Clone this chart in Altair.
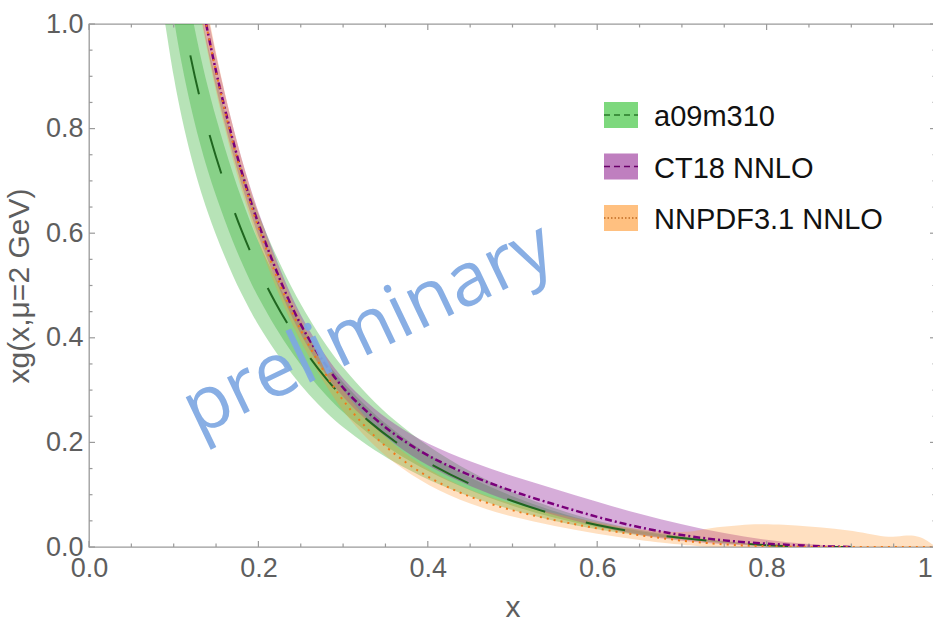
import altair as alt
import pandas as pd

# Plot-area size in pixels
W, H = 847, 523

# ---------------- data ----------------
# a09m310 lattice result: central curve with inner and outer error bands
a09_x = [0.09, 0.10, 0.11, 0.12, 0.13, 0.14, 0.15, 0.16, 0.17, 0.18, 0.19, 0.20,
         0.22, 0.24, 0.26, 0.28, 0.30, 0.33, 0.36, 0.40, 0.45, 0.50, 0.55, 0.60,
         0.65, 0.70, 0.75, 0.80, 0.85, 0.90]
a09_mid = [1.25, 1.12, 1.02, 0.935, 0.863, 0.80, 0.745, 0.695, 0.648, 0.605, 0.566, 0.53,
           0.466, 0.411, 0.363, 0.321, 0.285, 0.24, 0.202, 0.160, 0.119, 0.087, 0.061, 0.041,
           0.027, 0.017, 0.009, 0.003, 0.0, 0.0]
a09_inner_lo = [1.125, 1.008, 0.918, 0.842, 0.777, 0.72, 0.671, 0.626, 0.583, 0.545, 0.509, 0.477,
                0.419, 0.37, 0.327, 0.289, 0.257, 0.216, 0.182, 0.144, 0.107, 0.078, 0.055, 0.037,
                0.024, 0.015, 0.008, 0.0027, 0.0, 0.0]
a09_inner_hi = [1.375, 1.232, 1.122, 1.029, 0.949, 0.88, 0.82, 0.765, 0.713, 0.666, 0.623, 0.583,
                0.513, 0.452, 0.399, 0.353, 0.314, 0.264, 0.222, 0.176, 0.131, 0.096, 0.067, 0.045,
                0.030, 0.019, 0.010, 0.0033, 0.0, 0.0]
a09_outer_lo = [1.0, 0.896, 0.816, 0.748, 0.69, 0.64, 0.596, 0.556, 0.518, 0.484, 0.453, 0.424,
                0.373, 0.329, 0.29, 0.257, 0.228, 0.192, 0.162, 0.128, 0.095, 0.07, 0.049, 0.033,
                0.022, 0.014, 0.007, 0.0024, 0.0, 0.0]
a09_outer_hi = [1.5, 1.344, 1.224, 1.122, 1.036, 0.96, 0.894, 0.834, 0.778, 0.726, 0.679, 0.636,
                0.559, 0.493, 0.436, 0.385, 0.342, 0.288, 0.242, 0.192, 0.143, 0.104, 0.073, 0.049,
                0.032, 0.020, 0.011, 0.0036, 0.0, 0.0]

# CT18 NNLO global fit
ct18_x = [0.12, 0.13, 0.14, 0.15, 0.16, 0.17, 0.18, 0.19, 0.20, 0.22, 0.24, 0.26,
          0.28, 0.30, 0.33, 0.36, 0.40, 0.45, 0.50, 0.55, 0.60, 0.65, 0.70, 0.75,
          0.80, 0.85, 0.90]
ct18_mid = [1.17, 1.07, 0.985, 0.908, 0.84, 0.776, 0.718, 0.665, 0.617, 0.532, 0.455, 0.395,
            0.346, 0.302, 0.255, 0.215, 0.173, 0.136, 0.106, 0.081, 0.057, 0.037, 0.022, 0.012,
            0.006, 0.002, 0.0]
ct18_lo = [1.13, 1.035, 0.952, 0.877, 0.811, 0.749, 0.693, 0.641, 0.594, 0.511, 0.436, 0.377,
           0.328, 0.285, 0.238, 0.197, 0.154, 0.115, 0.085, 0.060, 0.039, 0.022, 0.011, 0.005,
           0.0015, 0.0, 0.0]
ct18_hi = [1.21, 1.105, 1.018, 0.939, 0.869, 0.803, 0.743, 0.689, 0.64, 0.553, 0.474, 0.413,
           0.364, 0.32, 0.273, 0.235, 0.196, 0.163, 0.135, 0.111, 0.086, 0.063, 0.043, 0.026,
           0.013, 0.005, 0.0]

# NNPDF3.1 NNLO global fit
nnpdf_x = [0.12, 0.13, 0.14, 0.15, 0.16, 0.17, 0.18, 0.19, 0.20, 0.22, 0.24, 0.26,
           0.28, 0.30, 0.33, 0.36, 0.40, 0.45, 0.50, 0.55, 0.60, 0.65, 0.70, 0.72,
           0.74, 0.77, 0.79, 0.82, 0.85, 0.88, 0.91, 0.93, 0.95, 0.965, 0.98, 0.99, 1.0]
nnpdf_mid = [1.17, 1.07, 0.985, 0.907, 0.836, 0.771, 0.712, 0.659, 0.61, 0.522, 0.446, 0.383,
             0.328, 0.278, 0.222, 0.177, 0.132, 0.094, 0.069, 0.051, 0.035, 0.022, 0.012, 0.009,
             0.006, 0.003, 0.002, 0.001, 0.0, 0.0, 0.0, 0.0, 0.0, 0.0, 0.0, 0.0, 0.0]
nnpdf_lo = [1.125, 1.028, 0.945, 0.87, 0.802, 0.739, 0.682, 0.631, 0.583, 0.498, 0.424, 0.362,
            0.308, 0.258, 0.203, 0.16, 0.117, 0.081, 0.057, 0.040, 0.025, 0.013, 0.004, 0.0015,
            0.0, 0.0, 0.0, 0.0, 0.0, 0.0, 0.0, 0.0, 0.0, 0.0, 0.0, 0.0, 0.0]
nnpdf_hi = [1.215, 1.112, 1.025, 0.944, 0.87, 0.803, 0.742, 0.687, 0.637, 0.546, 0.468, 0.404,
            0.348, 0.298, 0.241, 0.194, 0.147, 0.107, 0.082, 0.064, 0.046, 0.033, 0.027, 0.032,
            0.038, 0.042, 0.044, 0.043, 0.039, 0.035, 0.029, 0.022, 0.018, 0.023, 0.021, 0.012, 0.0]

# Axis ticks
major_ticks = [0.0, 0.2, 0.4, 0.6, 0.8, 1.0]
minor_ticks = [0.05, 0.1, 0.15, 0.25, 0.3, 0.35, 0.45, 0.5, 0.55,
               0.65, 0.7, 0.75, 0.85, 0.9, 0.95]

legend_labels = ["a09m310", "CT18 NNLO", "NNPDF3.1 NNLO"]

# ---------------- styling ----------------
FRAME = "#9a9a9a"
LABEL = "#5e5e5e"
FONT = "Liberation Sans"

xs = alt.Scale(domain=[0, 1], nice=False, zero=False)
ys = alt.Scale(domain=[0, 1], nice=False, zero=False)

x_axis = alt.Axis(values=major_ticks, format=".1f", ticks=False, tickSize=0, domain=False,
                  grid=False, labelFontSize=27, labelColor=LABEL, labelFont=FONT,
                  labelPadding=8, labelOverlap=False, labelBound=False, labelFlush=False,
                  title="x", titleFontSize=30, titleFont=FONT, titleColor=LABEL,
                  titleFontWeight="normal", titleAlign="center", titleBaseline="alphabetic",
                  titleX=W / 2, titleY=69, titleAngle=0)
y_axis = alt.Axis(values=major_ticks, format=".1f", ticks=False, tickSize=0, domain=False,
                  grid=False, labelFontSize=27, labelColor=LABEL, labelFont=FONT,
                  labelPadding=6, labelOverlap=False, labelBound=False, labelFlush=False,
                  title="xg(x,μ=2 GeV)", titleFontSize=30, titleFont=FONT, titleColor=LABEL,
                  titleFontWeight="normal", titleAlign="center", titleBaseline="middle",
                  titleAngle=270, titleX=-70, titleY=H / 2)

SMOOTH = "basis"


def band(x, lo, hi, color, opacity):
    df = pd.DataFrame({"x": x, "lo": lo, "hi": hi})
    return alt.Chart(df).mark_area(color=color, opacity=opacity, clip=True,
                                   interpolate=SMOOTH).encode(
        x=alt.X("x:Q", scale=xs, axis=x_axis),
        y=alt.Y("lo:Q", scale=ys, axis=y_axis),
        y2="hi:Q",
    )


def curve(x, y, color, dash, width):
    df = pd.DataFrame({"x": x, "y": y})
    return alt.Chart(df).mark_line(color=color, strokeDash=dash, strokeWidth=width,
                                   clip=True, interpolate=SMOOTH).encode(
        x=alt.X("x:Q", scale=xs, axis=x_axis),
        y=alt.Y("y:Q", scale=ys, axis=y_axis),
    )


def ticks(values, length):
    df = pd.DataFrame({"v": values})
    base = alt.Chart(df).mark_rule(color=FRAME, strokeWidth=1.2)
    xpos = alt.X("v:Q", scale=xs, axis=x_axis)
    ypos = alt.Y("v:Q", scale=ys, axis=y_axis)
    return [
        base.encode(x=xpos, y=alt.value(H), y2=alt.value(H - length)),
        base.encode(x=xpos, y=alt.value(0), y2=alt.value(length)),
        base.encode(y=ypos, x=alt.value(0), x2=alt.value(length)),
        base.encode(y=ypos, x=alt.value(W), x2=alt.value(W - length)),
    ]


layers = [
    band(a09_x, a09_outer_lo, a09_outer_hi, "#30b030", 0.35),
    band(a09_x, a09_inner_lo, a09_inner_hi, "#30b030", 0.35),
    band(ct18_x, ct18_lo, ct18_hi, "#9933a0", 0.4),
    band(nnpdf_x, nnpdf_lo, nnpdf_hi, "#ff9933", 0.3),
    curve(a09_x, a09_mid, "#1f661f", [40, 42], 2),
    curve(ct18_x, ct18_mid, "#7a007a", [7, 3, 2, 3], 2.5),
    curve(nnpdf_x, nnpdf_mid, "#f07a1a", [2, 5], 2),
]
layers += ticks(major_ticks, 6)
layers += ticks(minor_ticks, 3.5)

# Watermark
mark_df = pd.DataFrame({"t": ["preliminary"]})
layers.append(
    alt.Chart(mark_df).mark_text(font="Open Sans", fontSize=75, color="#7ea8e2", opacity=0.92,
                                 angle=334.5, align="center", baseline="alphabetic").encode(
        text="t:N", x=alt.value(289), y=alt.value(326))
)

# Legend: filled swatch with the curve's line style, then the label
one = pd.DataFrame({"k": [0]})
legend_style = [
    ("#7dd87d", "#2a7a2a", [6, 4]),
    ("#bf7fbf", "#6a006a", [6, 4]),
    ("#ffc080", "#c06a20", [1.5, 2]),
]
for i, (label, (fill, line, dash)) in enumerate(zip(legend_labels, legend_style)):
    top = 78 + i * 51.5
    mid = top + 13
    layers.append(alt.Chart(one).mark_rect(color=fill).encode(
        x=alt.value(515), x2=alt.value(549), y=alt.value(top), y2=alt.value(top + 26)))
    layers.append(alt.Chart(one).mark_rule(color=line, strokeDash=dash, strokeWidth=1.5).encode(
        x=alt.value(515), x2=alt.value(549), y=alt.value(mid)))
    layers.append(alt.Chart(pd.DataFrame({"t": [label]})).mark_text(
        font=FONT, fontSize=29, color="#111111", align="left", baseline="alphabetic").encode(
        text="t:N", x=alt.value(565), y=alt.value(mid + 11)))

chart = alt.layer(*layers).properties(
    width=W, height=H,
    autosize=alt.AutoSizeParams(type="none"),
    padding={"left": 89, "top": 24, "right": -3, "bottom": 73},
    background="white",
).configure_view(stroke=FRAME, strokeWidth=1.3)

chart.save("out.html", embed_options={"renderer": "svg", "actions": False})
